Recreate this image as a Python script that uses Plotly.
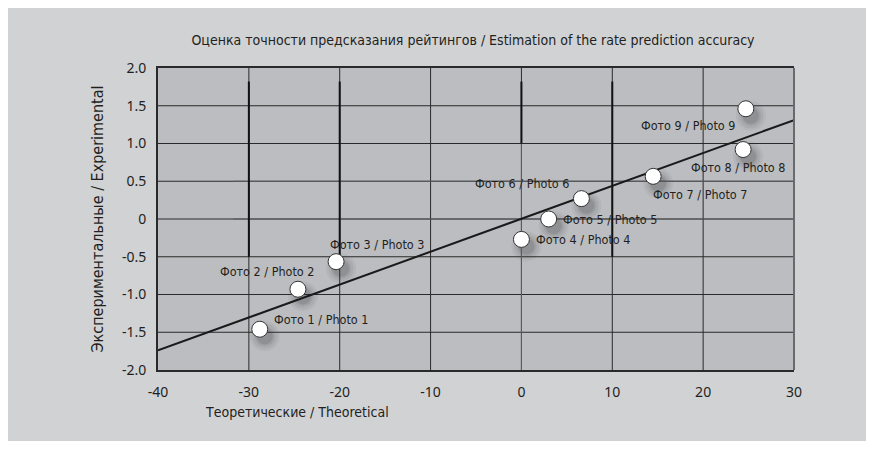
import plotly.graph_objects as go

# data
photo_names = ["Фото 1 / Photo 1", "Фото 2 / Photo 2", "Фото 3 / Photo 3",
               "Фото 4 / Photo 4", "Фото 5 / Photo 5", "Фото 6 / Photo 6",
               "Фото 7 / Photo 7", "Фото 8 / Photo 8", "Фото 9 / Photo 9"]
theoretical = [-28.8, -24.6, -20.4, 0.0, 3.0, 6.6, 14.5, 24.4, 24.7]
experimental = [-1.46, -0.93, -0.565, -0.27, 0.0, 0.27, 0.565, 0.92, 1.46]

trend_x = [-40, 30]
trend_y = [-1.74, 1.31]

x_ticks = [-40, -30, -20, -10, 0, 10, 20, 30]
x_tick_text = ["-40", "-30", "-20", "-10", "0", "10", "20", "30"]
y_ticks = [-2.0, -1.5, -1.0, -0.5, 0, 0.5, 1.0, 1.5, 2.0]
y_tick_text = ["-2.0", "-1.5", "-1.0", "-0.5", "0", "0.5", "1.0", "1.5", "2.0"]

# heavy vertical strokes on some grid lines
heavy_x = [-30, -20, 0, 10]
heavy_top = [1.82, 1.82, 1.82, 1.82]
heavy_bottom = [-0.5, -0.5, 1.0, -0.5]

# lighter stretches of the grid (x0, x1, y0, y1)
light_segments = [(-31.7, 30, 0.5, 0.5), (-31.7, 30, 0, 0), (0, 0, -2, 1.0)]

# label placement (pixel shifts, anchors)
label_style = [
    (12, 10, "left"), (18, 18, "right"), (-8, 17, "left"),
    (13, 0, "left"), (12, 0, "left"), (-10, 15, "right"),
    (-2, -18, "left"), (-5, -18, "center"), (-9, -17, "right"),
]

X_RANGE = [-40, 30]
Y_RANGE = [-2, 2]
DARK = "#231f20"
NARROW = "DejaVu Sans Condensed"


def segments(xs0, xs1, ys0, ys1):
    xs, ys = [], []
    for a, b, c, d in zip(xs0, xs1, ys0, ys1):
        xs += [a, b, None]
        ys += [c, d, None]
    return xs, ys


fig = go.Figure()

# soft shadows, drawn on the hidden (shifted) base axes
for size, alpha in [(30, 0.05), (25, 0.07), (20, 0.09), (16, 0.12)]:
    fig.add_trace(go.Scatter(
        x=theoretical, y=experimental, mode="markers",
        marker=dict(size=size, color=f"rgba(40,40,40,{alpha})", line=dict(width=0)),
        hoverinfo="skip", showlegend=False, xaxis="x", yaxis="y"))

# grid from the tick arrays
gx, gy = segments(x_ticks[1:-1], x_ticks[1:-1], [Y_RANGE[0]] * 6, [Y_RANGE[1]] * 6)
fig.add_trace(go.Scatter(x=gx, y=gy, mode="lines", line=dict(color="#2a2a2a", width=1),
                         hoverinfo="skip", showlegend=False, xaxis="x2", yaxis="y2"))
gx, gy = segments([X_RANGE[0]] * 7, [X_RANGE[1]] * 7, y_ticks[1:-1], y_ticks[1:-1])
fig.add_trace(go.Scatter(x=gx, y=gy, mode="lines", line=dict(color="#2a2a2a", width=1),
                         hoverinfo="skip", showlegend=False, xaxis="x2", yaxis="y2"))

lx, ly = segments(*zip(*light_segments))
fig.add_trace(go.Scatter(x=lx, y=ly, mode="lines", line=dict(color="#5e5e60", width=1),
                         hoverinfo="skip", showlegend=False, xaxis="x2", yaxis="y2"))

hx, hy = segments(heavy_x, heavy_x, heavy_bottom, heavy_top)
fig.add_trace(go.Scatter(x=hx, y=hy, mode="lines", line=dict(color="#111111", width=2),
                         hoverinfo="skip", showlegend=False, xaxis="x2", yaxis="y2"))

fig.add_trace(go.Scatter(
    x=trend_x, y=trend_y, mode="lines",
    line=dict(color="#1a1a1a", width=2),
    showlegend=False, xaxis="x2", yaxis="y2"))

fig.add_trace(go.Scatter(
    x=theoretical, y=experimental, mode="markers",
    marker=dict(size=16, color="white", line=dict(color="#333333", width=1)),
    text=photo_names, hovertemplate="%{text}<br>%{x}, %{y}<extra></extra>",
    showlegend=False, xaxis="x2", yaxis="y2"))

for name, px_, py_, (dx, dy, anchor) in zip(photo_names, theoretical, experimental, label_style):
    fig.add_annotation(x=px_, y=py_, xref="x2", yref="y2", text=name, showarrow=False,
                       xanchor=anchor, yanchor="middle", xshift=dx, yshift=dy,
                       font=dict(family=NARROW, size=12.5, color=DARK))

# right border of the plot frame is lighter
fig.add_shape(type="line", xref="paper", yref="paper", x0=1, x1=1, y0=0, y1=1,
              line=dict(color="#6a6a6c", width=2), layer="above")

fig.add_annotation(text="Теоретические / Theoretical", xref="paper", yref="paper",
                   x=0.219, y=-0.14, showarrow=False, xanchor="center", yanchor="middle",
                   font=dict(family=NARROW, size=14, color=DARK))

dx_shadow = 0.55
dy_shadow = 0.093

fig.update_layout(
    width=858, height=433,
    margin=dict(l=150, r=72, t=60, b=71),
    paper_bgcolor="#d1d2d4",
    plot_bgcolor="#bcbdc0",
    title=dict(text="Оценка точности предсказания рейтингов / Estimation of the rate prediction accuracy",
               x=465 / 858, xanchor="center", y=1 - 32 / 433, yanchor="middle",
               font=dict(family=NARROW, size=14, color=DARK)),
    xaxis=dict(range=[X_RANGE[0] - dx_shadow, X_RANGE[1] - dx_shadow], visible=False,
               showgrid=False, zeroline=False),
    yaxis=dict(range=[Y_RANGE[0] + dy_shadow, Y_RANGE[1] + dy_shadow], visible=False,
               showgrid=False, zeroline=False),
    xaxis2=dict(range=X_RANGE, overlaying="x", anchor="y2", side="bottom",
                tickvals=x_ticks, ticktext=x_tick_text, ticks="",
                ticklabelstandoff=8, showgrid=False, zeroline=False,
                showline=True, linecolor="#2a2a2a", linewidth=2, mirror=True,
                tickfont=dict(family="Noto Sans", size=14, color=DARK)),
    yaxis2=dict(range=Y_RANGE, overlaying="y", anchor="x2", side="left",
                tickvals=y_ticks, ticktext=y_tick_text, ticks="",
                ticklabelstandoff=7, showgrid=False, zeroline=False,
                showline=True, linecolor="#2a2a2a", linewidth=2,
                title=dict(text="Экспериментальные / Experimental", standoff=14,
                           font=dict(family=NARROW, size=16, color=DARK)),
                tickfont=dict(family="Noto Sans", size=14, color=DARK)),
)

fig.write_html("out.html")
